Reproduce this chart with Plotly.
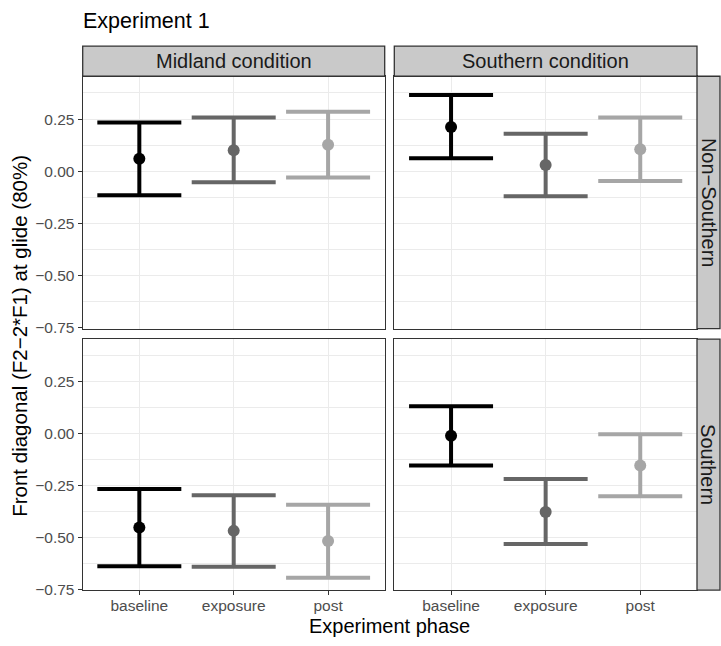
import plotly.graph_objects as go

# ---------------- data ----------------
phases = ["baseline", "exposure", "post"]
conditions = ["Midland condition", "Southern condition"]
groups = ["Non−Southern", "Southern"]
phase_colors = ["#000000", "#666666", "#a6a6a6"]

# Midland condition / Non-Southern
mean_mid_non = [0.060, 0.101, 0.127]
low_mid_non = [-0.115, -0.052, -0.030]
up_mid_non = [0.234, 0.258, 0.285]
# Southern condition / Non-Southern
mean_sou_non = [0.212, 0.030, 0.106]
low_sou_non = [0.062, -0.119, -0.046]
up_sou_non = [0.365, 0.180, 0.258]
# Midland condition / Southern
mean_mid_sou = [-0.452, -0.468, -0.517]
low_mid_sou = [-0.638, -0.641, -0.693]
up_mid_sou = [-0.266, -0.296, -0.342]
# Southern condition / Southern
mean_sou_sou = [-0.010, -0.377, -0.153]
low_sou_sou = [-0.153, -0.531, -0.301]
up_sou_sou = [0.132, -0.219, -0.003]

y_ticks = [-0.75, -0.5, -0.25, 0.0, 0.25]
y_ticktext = ["−0.75", "−0.50", "−0.25", "0.00", "0.25"]
y_range = [-0.753, 0.455]

panels = [
    # (row, col, mean, low, up)
    (0, 0, mean_mid_non, low_mid_non, up_mid_non),
    (0, 1, mean_sou_non, low_sou_non, up_sou_non),
    (1, 0, mean_mid_sou, low_mid_sou, up_mid_sou),
    (1, 1, mean_sou_sou, low_sou_sou, up_sou_sou),
]

# ---------------- layout geometry (pixels) ----------------
W, H = 721, 646
col_px = [(82.7, 384.7), (394.3, 697.0)]
row_px = [(77.2, 332.7), (343.3, 597.5)]
strip_top = (46.7, 77.2)
strip_right = (697.0, 720.0)


def fx(px):
    return px / W


def fy(py):
    return 1 - py / H


FONT = "Liberation Sans, Arial, sans-serif"
fig = go.Figure()
layout = dict(
    width=W, height=H,
    margin=dict(l=0, r=0, t=0, b=0),
    paper_bgcolor="white", plot_bgcolor="white",
    showlegend=False,
    font=dict(family=FONT, color="#000000"),
)

for idx, (r, c, mean, low, up) in enumerate(panels):
    n = idx + 1
    xa = "xaxis" if n == 1 else f"xaxis{n}"
    ya = "yaxis" if n == 1 else f"yaxis{n}"
    xref = "x" if n == 1 else f"x{n}"
    yref = "y" if n == 1 else f"y{n}"
    for k, ph in enumerate(phases):
        fig.add_trace(go.Scatter(
            x=[ph], y=[mean[k]], mode="markers",
            marker=dict(color=phase_colors[k], size=12),
            error_y=dict(type="data", symmetric=False,
                         array=[up[k] - mean[k]],
                         arrayminus=[mean[k] - low[k]],
                         color=phase_colors[k], thickness=4, width=42),
            xaxis=xref, yaxis=yref, cliponaxis=False,
        ))
    x0, x1 = col_px[c]
    y0, y1 = row_px[r]
    layout[xa] = dict(
        domain=[fx(x0), fx(x1)], anchor=yref,
        type="category", categoryorder="array", categoryarray=phases,
        range=[-0.6, 2.6],
        showgrid=True, gridcolor="#ebebeb", gridwidth=1.3,
        showline=True, mirror=True, linecolor="#333333", linewidth=1.3,
        ticks="outside" if r == 1 else "", ticklen=4, tickcolor="#333333", tickwidth=1.1,
        showticklabels=(r == 1), ticklabelstandoff=-3,
        tickfont=dict(size=15.5, color="#4d4d4d", family=FONT),
        zeroline=False, fixedrange=True,
    )
    layout[ya] = dict(
        domain=[fy(y1), fy(y0)], anchor=xref,
        range=y_range, tickvals=y_ticks, ticktext=y_ticktext,
        showgrid=True, gridcolor="#ebebeb", gridwidth=1.3,
        minor=dict(dtick=0.25, tick0=0.125, showgrid=True, gridcolor="#ebebeb", gridwidth=0.7),
        showline=True, mirror=True, linecolor="#333333", linewidth=1.3,
        ticks="outside" if c == 0 else "", ticklen=4, tickcolor="#333333", tickwidth=1.1,
        showticklabels=(c == 0),
        tickfont=dict(size=15.5, color="#4d4d4d", family=FONT),
        zeroline=False, fixedrange=True,
    )

shapes = []
annotations = []
# top strips
for c, cond in enumerate(conditions):
    x0, x1 = col_px[c]
    shapes.append(dict(type="rect", xref="paper", yref="paper",
                       x0=fx(x0), x1=fx(x1), y0=fy(strip_top[1]), y1=fy(strip_top[0]),
                       fillcolor="#c9c9c9", line=dict(color="#333333", width=1.3), layer="above"))
    annotations.append(dict(text=cond, xref="paper", yref="paper",
                            x=fx((x0 + x1) / 2), y=fy(sum(strip_top) / 2),
                            xanchor="center", yanchor="middle", showarrow=False,
                            font=dict(size=20, color="#1a1a1a", family=FONT)))
# right strips
for r, grp in enumerate(groups):
    y0, y1 = row_px[r]
    shapes.append(dict(type="rect", xref="paper", yref="paper",
                       x0=fx(strip_right[0]), x1=fx(strip_right[1]), y0=fy(y1), y1=fy(y0),
                       fillcolor="#c9c9c9", line=dict(color="#333333", width=1.3), layer="above"))
    annotations.append(dict(text=grp, xref="paper", yref="paper",
                            x=fx(sum(strip_right) / 2), y=fy((y0 + y1) / 2),
                            xanchor="center", yanchor="middle", showarrow=False, textangle=90,
                            font=dict(size=20, color="#1a1a1a", family=FONT)))

# titles
annotations.append(dict(text="Experiment 1", xref="paper", yref="paper",
                        x=fx(81), y=fy(21), xanchor="left", yanchor="middle", showarrow=False,
                        font=dict(size=21.5, color="#000000", family=FONT)))
annotations.append(dict(text="Experiment phase", xref="paper", yref="paper",
                        x=fx((col_px[0][0] + col_px[1][1]) / 2), y=fy(634),
                        xanchor="center", yanchor="middle", showarrow=False,
                        font=dict(size=20, color="#000000", family=FONT)))
annotations.append(dict(text="Front diagonal (F2−2*F1) at glide (80%)", xref="paper", yref="paper",
                        x=fx(20), y=fy(340),
                        xanchor="center", yanchor="middle", showarrow=False, textangle=-90,
                        font=dict(size=20.5, color="#000000", family=FONT)))

layout["shapes"] = shapes
layout["annotations"] = annotations
fig.update_layout(**layout)
fig.write_html("out.html")
